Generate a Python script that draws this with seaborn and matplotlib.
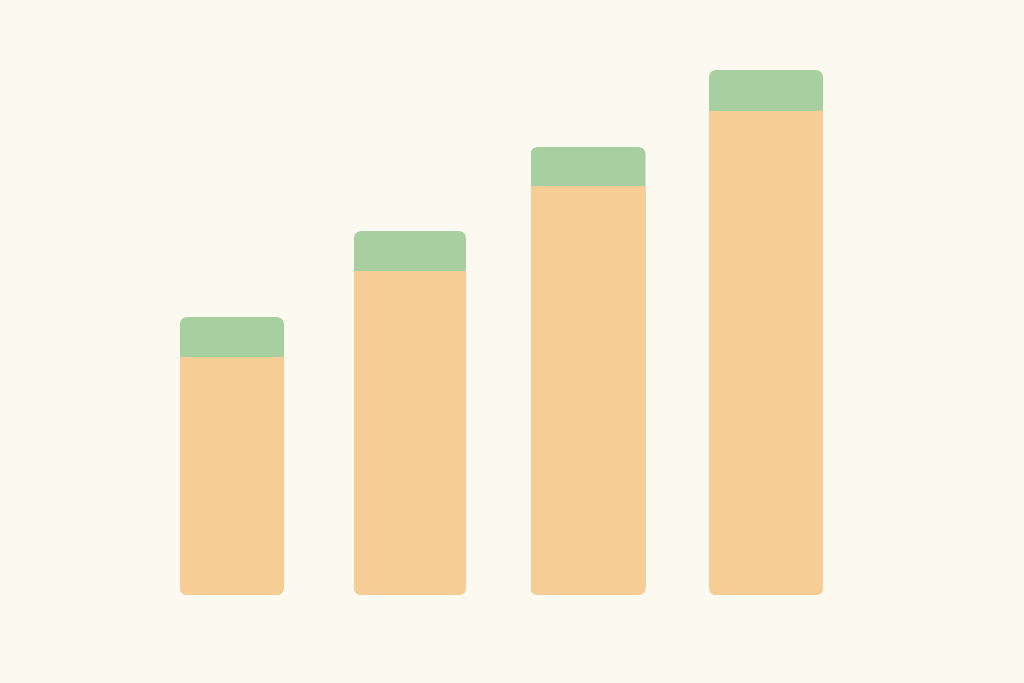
import numpy as np
import pandas as pd
import matplotlib
matplotlib.use("Agg")
import matplotlib.pyplot as plt
import seaborn as sns
from matplotlib.patches import FancyBboxPatch

# === data ===
categories = ["A", "B", "C", "D"]
base_values = [238, 324, 409, 484]
top_values = [40, 40, 39, 41]

bg = "#FCF9F1"
orange = "#F6CD94"
green = "#A8CFA0"

df = pd.DataFrame({"cat": categories, "base": base_values, "top": top_values})
df["total"] = df["base"] + df["top"]

sns.set_style("white")
fig = plt.figure(figsize=(10.24, 6.83), dpi=100, facecolor=bg)
ax = fig.add_axes([0, 0, 1, 1])
ax.set_facecolor(bg)

# stacked: total in green, base in orange on top of it
sns.barplot(data=df, x="cat", y="total", color=green, width=0.63,
            saturation=1, ax=ax, linewidth=0)
n_green = len(ax.patches)
sns.barplot(data=df, x="cat", y="base", color=orange, width=0.63,
            saturation=1, ax=ax, linewidth=0)

ax.set_xlim(-1.303, 4.449)
ax.set_ylim(-88, 595)

# bar widths in the reference are slightly uneven (pixels)
px_x = 1 / 178.0  # x units per pixel
bar_px = [104, 112, 115, 114]
rad = 8 * px_x
green_bars = ax.patches[:n_green]
orange_bars = ax.patches[n_green:]
for gb, ob, wpx in zip(green_bars, orange_bars, bar_px):
    cx = gb.get_x() + gb.get_width() / 2
    w = wpx * px_x
    for b in (gb, ob):
        b.set_x(cx - w / 2)
        b.set_width(w)
    clip = FancyBboxPatch((gb.get_x(), gb.get_y()), w, gb.get_height(),
                          boxstyle=f"round,pad=0,rounding_size={rad}",
                          mutation_aspect=178, transform=ax.transData,
                          facecolor="none", edgecolor="none")
    ax.add_patch(clip)
    gb.set_clip_path(clip)
    ob.set_clip_path(clip)

ax.axis("off")
fig.savefig("out.png", dpi=100, facecolor=bg)
